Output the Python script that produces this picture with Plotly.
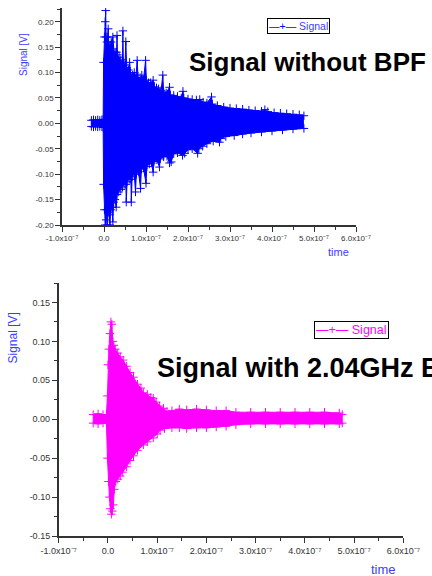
import plotly.graph_objects as go

# ---------------- data ----------------
# Top panel: "Signal without BPF" -- upper / lower envelope of the trace (time in ns, value in V)
top_hi_t_ns = [-30, -25, -20, -15, -10, -5, -2, -1, 1, 3, 4, 5, 7, 9, 10, 11, 14, 17, 21, 24, 28, 30, 31, 32,
               36, 40, 44, 45, 46, 50, 52, 54, 58, 61, 63, 68, 72, 76, 79, 81, 86, 90, 94, 99, 101, 106,
               111, 117, 120, 125, 130, 136, 140, 142, 148, 156, 158, 166, 175, 184, 188, 190, 200, 210,
               220, 228, 236, 245, 256, 258, 270, 285, 300, 315, 330, 345, 360, 375, 383, 390, 405, 420,
               435, 450, 465, 476]
top_hi_v = [0.006, 0.007, 0.006, 0.007, 0.006, 0.007, 0.008, 0.12, 0.17, 0.20, 0.222, 0.17, 0.16, 0.17, 0.186,
            0.16, 0.15, 0.16, 0.17, 0.14, 0.14, 0.14, 0.173, 0.135, 0.13, 0.125, 0.12, 0.182, 0.12, 0.115,
            0.161, 0.11, 0.105, 0.12, 0.10, 0.095, 0.10, 0.09, 0.124, 0.09, 0.09, 0.095, 0.085, 0.124, 0.085,
            0.08, 0.08, 0.085, 0.072, 0.07, 0.068, 0.065, 0.095, 0.062, 0.06, 0.071, 0.056, 0.055, 0.053,
            0.05, 0.063, 0.05, 0.048, 0.047, 0.046, 0.047, 0.042, 0.04, 0.052, 0.038, 0.035, 0.032, 0.03,
            0.029, 0.028, 0.026, 0.025, 0.024, 0.027, 0.023, 0.021, 0.02, 0.019, 0.018, 0.017, 0.015]
top_lo_t_ns = [-30, -25, -20, -15, -10, -5, -2, -1, 1, 3, 5, 7, 8, 10, 13, 14, 16, 19, 21, 23, 26, 29, 31, 35,
               40, 44, 48, 52, 53, 55, 60, 64, 65, 67, 72, 75, 77, 82, 87, 89, 94, 100, 102, 108, 113, 117,
               119, 126, 132, 134, 142, 150, 156, 160, 166, 175, 187, 192, 200, 210, 223, 226, 235, 245,
               260, 275, 278, 290, 310, 330, 350, 375, 400, 425, 450, 476]
top_lo_v = [-0.006, -0.007, -0.006, -0.007, -0.006, -0.007, -0.008, -0.12, -0.17, -0.20, -0.19, -0.17, -0.20,
            -0.175, -0.18, -0.20, -0.17, -0.165, -0.194, -0.155, -0.15, -0.165, -0.14, -0.135, -0.13, -0.125,
            -0.12, -0.12, -0.155, -0.115, -0.11, -0.11, -0.155, -0.105, -0.10, -0.135, -0.10, -0.095, -0.128,
            -0.09, -0.088, -0.118, -0.085, -0.08, -0.078, -0.096, -0.075, -0.072, -0.086, -0.07, -0.066,
            -0.065, -0.078, -0.076, -0.06, -0.058, -0.063, -0.059, -0.052, -0.05, -0.059, -0.05, -0.045,
            -0.04, -0.035, -0.037, -0.03, -0.026, -0.024, -0.021, -0.019, -0.017, -0.015, -0.013, -0.011,
            -0.01]

# Bottom panel: "Signal with 2.04GHz BPF"
bot_hi_t_ns = [-30, -20, -10, -3, -1, 0, 2, 4, 6, 8, 10, 12, 15, 20, 25, 31, 38, 45, 52, 60, 67, 72, 80, 87,
               92, 98, 105, 113, 120, 130, 145, 160, 180, 200, 220, 240, 260, 290, 320, 350, 380, 410,
               440, 470, 476]
bot_hi_v = [0.006, 0.007, 0.006, 0.006, 0.03, 0.07, 0.09, 0.11, 0.125, 0.122, 0.10, 0.095, 0.09, 0.085, 0.08,
            0.076, 0.068, 0.06, 0.054, 0.045, 0.04, 0.034, 0.032, 0.028, 0.027, 0.022, 0.017, 0.014, 0.01,
            0.011, 0.013, 0.012, 0.013, 0.012, 0.011, 0.011, 0.009, 0.009, 0.009, 0.009, 0.009, 0.009,
            0.009, 0.008, 0.006]
bot_lo_t_ns = [-30, -20, -10, -3, -1, 1, 3, 5, 7, 9, 11, 13, 16, 20, 25, 30, 38, 45, 52, 60, 72, 80, 92, 100,
               106, 115, 130, 145, 160, 180, 200, 220, 240, 260, 290, 320, 350, 380, 410, 440, 470, 476]
bot_lo_v = [-0.005, -0.006, -0.005, -0.005, -0.05, -0.08, -0.10, -0.115, -0.122, -0.118, -0.11, -0.09, -0.08,
            -0.077, -0.073, -0.068, -0.061, -0.053, -0.047, -0.04, -0.033, -0.029, -0.024, -0.019, -0.014,
            -0.012, -0.011, -0.011, -0.012, -0.011, -0.011, -0.01, -0.009, -0.007, -0.006, -0.006, -0.006,
            -0.006, -0.006, -0.006, -0.006, -0.005]

x_tick_vals = [-1e-7, 0.0, 1e-7, 2e-7, 3e-7, 4e-7, 5e-7, 6e-7]
x_tick_text = ["-1.0x10⁻⁷", "0.0", "1.0x10⁻⁷", "2.0x10⁻⁷",
               "3.0x10⁻⁷", "4.0x10⁻⁷", "5.0x10⁻⁷", "6.0x10⁻⁷"]
top_y_vals = [-0.20, -0.15, -0.10, -0.05, 0.00, 0.05, 0.10, 0.15, 0.20]
top_y_text = ["-0.20", "-0.15", "-0.10", "-0.05", "0.00", "0.05", "0.10", "0.15", "0.20"]
bot_y_vals = [-0.15, -0.10, -0.05, 0.00, 0.05, 0.10, 0.15]
bot_y_text = ["-0.15", "-0.10", "-0.05", "0.00", "0.05", "0.10", "0.15"]
series_name = "Signal"

BLUE = "#0000ff"
MAGENTA = "#ff00ff"
LABEL_BLUE = "#3c3cff"
AXC = "#333333"
FONT = "Arial, Liberation Sans, sans-serif"

def ns(lst):
    return [v * 1e-9 for v in lst]

fig = go.Figure()

def add_panel(t_hi, v_hi, t_lo, v_lo, color, xa, ya):
    mk = dict(symbol="cross-thin", size=6, line=dict(color=color, width=1))
    fig.add_trace(go.Scatter(x=ns(t_hi), y=v_hi, mode="lines+markers", name=series_name,
                             line=dict(color=color, width=1), marker=mk,
                             xaxis=xa, yaxis=ya, showlegend=False))
    fig.add_trace(go.Scatter(x=ns(t_lo), y=v_lo, mode="lines+markers", name=series_name,
                             line=dict(color=color, width=1), marker=mk,
                             fill="tonexty", fillcolor=color,
                             xaxis=xa, yaxis=ya, showlegend=False))

add_panel(top_hi_t_ns, top_hi_v, top_lo_t_ns, top_lo_v, BLUE, "x", "y")
add_panel(bot_hi_t_ns, bot_hi_v, bot_lo_t_ns, bot_lo_v, MAGENTA, "x2", "y2")

def axis_common(fs):
    return dict(showline=True, linecolor=AXC, linewidth=1.5, ticks="outside", ticklen=5,
                tickwidth=1, tickcolor=AXC, showgrid=False, zeroline=False,
                tickfont=dict(family=FONT, size=fs, color=AXC), mirror=False)

def minor(d):
    return dict(tickmode="linear", tick0=0, dtick=d, ticks="outside", ticklen=3,
                tickcolor=AXC, showgrid=False)

W, H = 432, 576
fig.update_layout(
    width=W, height=H, margin=dict(l=0, r=0, t=0, b=0, autoexpand=False),
    paper_bgcolor="white", plot_bgcolor="white",
    font=dict(family=FONT),
    showlegend=False,
    xaxis=dict(domain=[62 / W, 356 / W], anchor="y", range=[-1e-7, 6e-7],
               tickmode="array", tickvals=x_tick_vals, ticktext=x_tick_text,
               minor=minor(5e-8), **axis_common(8)),
    yaxis=dict(domain=[1 - 225 / H, 1 - 8 / H], anchor="x", range=[-0.20, 0.227],
               tickmode="array", tickvals=top_y_vals, ticktext=top_y_text,
               minor=minor(0.025), **axis_common(8)),
    xaxis2=dict(domain=[58.7 / W, 403.3 / W], anchor="y2", range=[-1e-7, 6e-7],
                tickmode="array", tickvals=x_tick_vals, ticktext=x_tick_text,
                minor=minor(5e-8), **axis_common(9)),
    yaxis2=dict(domain=[1 - 536 / H, 1 - 283 / H], anchor="x2", range=[-0.15, 0.175],
                tickmode="array", tickvals=bot_y_vals, ticktext=bot_y_text,
                minor=minor(0.025), **axis_common(9)),
)

ann = [
    dict(text="<b>Signal without BPF</b>", x=187 / W, y=1 - 62 / H, xanchor="left", yanchor="middle",
         font=dict(family=FONT, size=26, color="black")),
    dict(text="<b>Signal with 2.04GHz BPF</b>", x=155 / W, y=1 - 368 / H, xanchor="left", yanchor="middle",
         font=dict(family=FONT, size=27, color="black")),
    dict(text="Signal [V]", x=23 / W, y=1 - 55 / H, textangle=-90, xanchor="center", yanchor="middle",
         font=dict(family=FONT, size=10, color=LABEL_BLUE)),
    dict(text="Signal [V]", x=12.5 / W, y=1 - 338 / H, textangle=-90, xanchor="center", yanchor="middle",
         font=dict(family=FONT, size=12, color=LABEL_BLUE)),
    dict(text="time", x=338 / W, y=1 - 252 / H, xanchor="center", yanchor="middle",
         font=dict(family=FONT, size=11, color=LABEL_BLUE)),
    dict(text="time", x=383 / W, y=1 - 569 / H, xanchor="center", yanchor="middle",
         font=dict(family=FONT, size=13, color=LABEL_BLUE)),
    # legend boxes
    dict(text=f'<span style="color:{BLUE}">—+—</span> {series_name}', x=267 / W, y=1 - 18 / H,
         xanchor="left", yanchor="top", bgcolor="white", bordercolor="black", borderwidth=1, borderpad=1,
         font=dict(family=FONT, size=10.5, color=LABEL_BLUE)),
    dict(text=f'<span style="color:{MAGENTA}">—+—</span> {series_name}', x=314 / W, y=1 - 321 / H,
         xanchor="left", yanchor="top", bgcolor="white", bordercolor="black", borderwidth=1, borderpad=1,
         font=dict(family=FONT, size=12.5, color=MAGENTA)),
]
for a in ann:
    a.update(xref="paper", yref="paper", showarrow=False)
fig.update_layout(annotations=ann)

fig.write_html("out.html")
